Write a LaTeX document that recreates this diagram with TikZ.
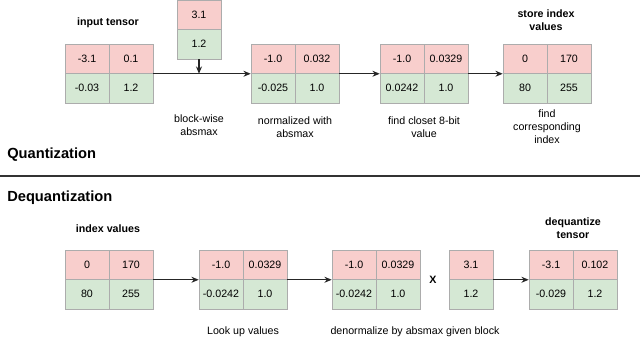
\documentclass[tikz,border=0pt]{standalone}
\usepackage{fontspec}
\setmainfont{Liberation Sans}
\usetikzlibrary{arrows.meta,positioning}
\definecolor{qred}{HTML}{F8CECC}
\definecolor{qgreen}{HTML}{D5E8D4}

\begin{document}
\begin{tikzpicture}[x=0.75pt, y=-0.75pt,
    cell/.style={draw=gray!65, minimum width=33pt, minimum height=22.1pt,
                 inner sep=0pt, font=\fontsize{8}{9.75}\selectfont},
    hi/.style={cell, fill=qred},
    lo/.style={cell, fill=qgreen},
    flow/.style={-{Stealth[length=5.5pt,width=4.5pt]}, line width=1.1pt, draw=black!85},
    note/.style={font=\fontsize{8}{9.75}\selectfont, align=center},
    head/.style={note, font=\fontsize{8}{9.75}\selectfont\bfseries},
    title/.style={font=\fontsize{11}{13}\selectfont\bfseries, anchor=west, inner sep=0pt}
]
\useasboundingbox (0,0) rectangle (640,337);

% quantization
\node[hi] (in-a) at (87,58.75)  {-3.1};
\node[hi] (in-b) at (131,58.75) {0.1};
\node[lo] (in-c) at (87,88.25)  {-0.03};
\node[lo] (in-d) at (131,88.25) {1.2};

\node[hi] (sc-a) at (199,14.75) {3.1};
\node[lo] (sc-b) at (199,44.25) {1.2};

\node[hi] (nm-a) at (273,58.75) {-1.0};
\node[hi] (nm-b) at (317,58.75) {0.032};
\node[lo] (nm-c) at (273,88.25) {-0.025};
\node[lo] (nm-d) at (317,88.25) {1.0};

\node[hi] (cl-a) at (402,58.75) {-1.0};
\node[hi] (cl-b) at (446,58.75) {0.0329};
\node[lo] (cl-c) at (402,88.25) {0.0242};
\node[lo] (cl-d) at (446,88.25) {1.0};

\node[hi] (ix-a) at (525,58.75) {0};
\node[hi] (ix-b) at (569,58.75) {170};
\node[lo] (ix-c) at (525,88.25) {80};
\node[lo] (ix-d) at (569,88.25) {255};

\draw[flow] (in-b.south east) -- (nm-a.south west);
\draw[flow] (sc-b.south) -- (sc-b.south |- in-b.south east);
\draw[flow] (nm-b.south east) -- (cl-a.south west);
\draw[flow] (cl-b.south east) -- (ix-a.south west);

\node[head] (in-lbl) at (108,23)    {input tensor};
\node[note] (bw-lbl) at (199,125.5) {block-wise\\absmax};
\node[note] (nm-lbl) at (295,127.5) {normalized with\\absmax};
\node[note] (cl-lbl) at (424,127)   {find closet 8-bit\\value};
\node[head] (ix-lbl) at (546,20.5)  {store index\\values};
\node[note] (fc-lbl) at (547,127)   {find\\corresponding\\index};

\node[title] (q-title) at (7,155) {Quantization};
\coordinate (rule-l) at (0,176);
\coordinate (rule-r) at (640,176);
\draw[line width=1.1pt, black!80] (rule-l) -- (rule-r);
\node[title] (dq-title) at (7,198) {Dequantization};

% dequantization
\node[hi] (iv-a) at (87,264.75)  {0};
\node[hi] (iv-b) at (131,264.75) {170};
\node[lo] (iv-c) at (87,294.25)  {80};
\node[lo] (iv-d) at (131,294.25) {255};

\node[hi] (lu-a) at (221,264.75) {-1.0};
\node[hi] (lu-b) at (265,264.75) {0.0329};
\node[lo] (lu-c) at (221,294.25) {-0.0242};
\node[lo] (lu-d) at (265,294.25) {1.0};

\node[hi] (dn-a) at (354,264.75) {-1.0};
\node[hi] (dn-b) at (398,264.75) {0.0329};
\node[lo] (dn-c) at (354,294.25) {-0.0242};
\node[lo] (dn-d) at (398,294.25) {1.0};

\node[hi] (am-a) at (471,264.75) {3.1};
\node[lo] (am-b) at (471,294.25) {1.2};

\node[hi] (dq-a) at (551,264.75) {-3.1};
\node[hi] (dq-b) at (595,264.75) {0.102};
\node[lo] (dq-c) at (551,294.25) {-0.029};
\node[lo] (dq-d) at (595,294.25) {1.2};

\draw[flow] (iv-b.south east) -- (lu-a.south west);
\draw[flow] (lu-b.south east) -- (dn-a.south west);
\draw[flow] (am-a.south east) -- (dq-a.south west);

\node[head] (iv-lbl) at (108,229)   {index values};
\node[note] (lu-lbl) at (243,332)   {Look up values};
\node[note] (dn-lbl) at (415,332)   {denormalize by absmax given block};
\node[head] (times)  at (433,279.5) {X};
\node[head] (dq-lbl) at (573,228.5) {dequantize\\tensor};

\end{tikzpicture}
\end{document}
